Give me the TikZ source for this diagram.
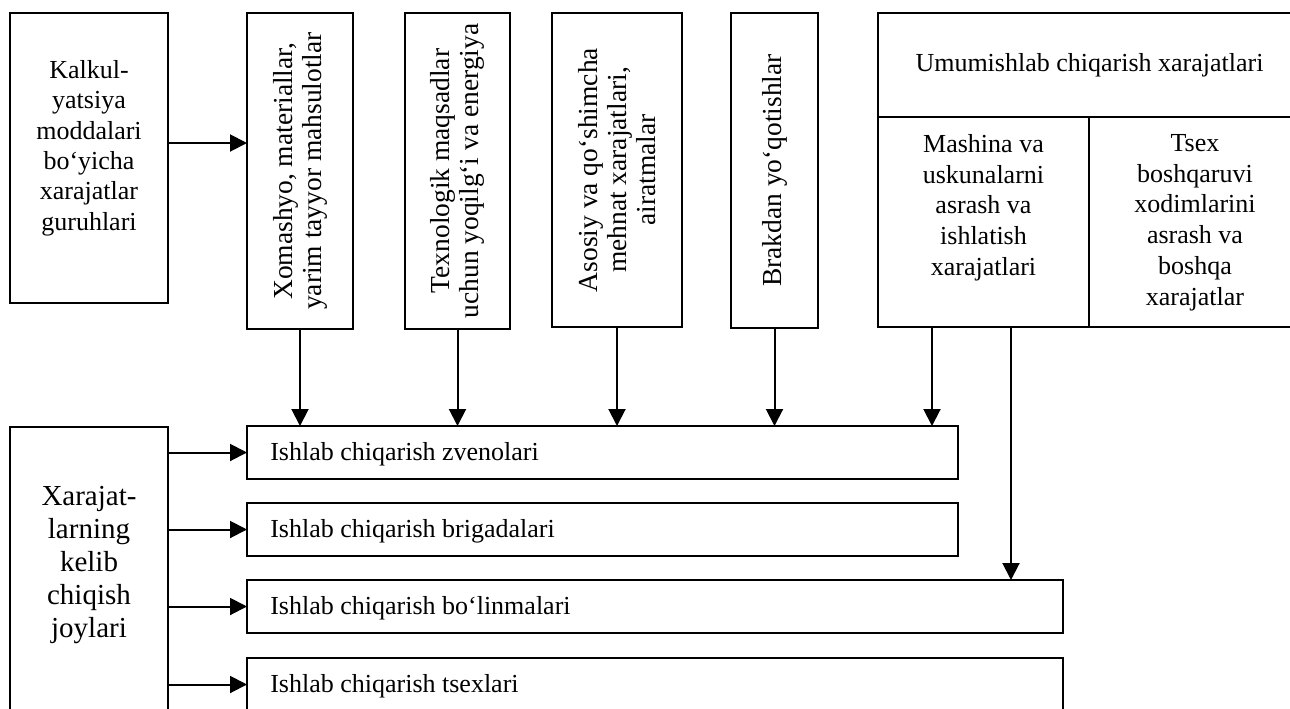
\documentclass[tikz,border=0pt]{standalone}
\usepackage{fontspec}
\setmainfont{Liberation Serif}
\usetikzlibrary{arrows.meta}
\begin{document}
\begin{tikzpicture}[x=0.75pt,y=-0.75pt,
  cell/.style={draw, line width=1.5pt, inner sep=0pt, outer sep=0pt, anchor=north west},
  txt/.style={inner sep=0pt, align=center, font=\fontsize{19.5pt}{21.75pt}\selectfont},
  vtxt/.style={txt, rotate=90, font=\fontsize{20.6pt}{21.75pt}\selectfont},
  arr/.style={line width=1.5pt, -{Triangle[length=12.75pt,width=12.75pt]}}]
\useasboundingbox (0,0) rectangle (1290,708);
\fill[white] (0,0) rectangle (1290,708);
\clip (0,0) rectangle (1290,708);

% upper row: calculation items
\node[cell, minimum width=118.5pt, minimum height=217.5pt] (kal) at (10,13) {};
\node[cell, minimum width=79.5pt,  minimum height=237pt]   (xom) at (247,13) {};
\node[cell, minimum width=78.75pt, minimum height=237pt]   (tex) at (405,13) {};
\node[cell, minimum width=97.5pt,  minimum height=235.5pt] (aso) at (552,13) {};
\node[cell, minimum width=65.25pt, minimum height=236.25pt] (bra) at (731,13) {};
\node[cell, minimum width=317.25pt, minimum height=78pt]   (head) at (878,13) {};
\node[cell, minimum width=158.25pt, minimum height=157.5pt] (mash) at (878,117) {};
\node[cell, minimum width=159pt,   minimum height=157.5pt] (tsc) at (1089,117) {};

% lower part: places where costs arise
\node[cell, minimum width=118.5pt, minimum height=225pt]   (xar) at (10,427) {};
\node[cell, minimum width=533.25pt, minimum height=39.75pt] (zve) at (247,426) {};
\node[cell, minimum width=533.25pt, minimum height=39.75pt] (bri) at (247,503) {};
\node[cell, minimum width=612pt,   minimum height=39.75pt] (bol) at (247,580) {};
\node[cell, minimum width=612pt,   minimum height=39.75pt] (tse) at (247,658) {};

% texts
\node[txt, font=\fontsize{19.5pt}{22.8pt}\selectfont] (kalT) at (89,148)
  {Kalkul-\\yatsiya\\moddalari\\bo‘yicha\\xarajatlar\\guruhlari};
\node[vtxt] (xomT) at (xom.center) {Xomashyo, materiallar,\\yarim tayyor mahsulotlar};
\node[vtxt] (texT) at (tex.center) {Texnologik maqsadlar\\uchun yoqilg‘i va energiya};
\node[vtxt] (asoT) at (aso.center) {Asosiy va qo‘shimcha\\mehnat xarajatlari,\\airatmalar};
\node[vtxt] (braT) at (bra.center) {Brakdan yo‘qotishlar};
\node[txt] (headT) at (head.center) {Umumishlab chiqarish xarajatlari};
\node[txt, anchor=north, font=\fontsize{19.5pt}{23.1pt}\selectfont] (mashT) at (983.5,134)
  {Mashina va\\uskunalarni\\asrash va\\ishlatish\\xarajatlari};
\node[txt, anchor=north, font=\fontsize{19.5pt}{23.1pt}\selectfont] (tscT) at (1195,134)
  {Tsex\\boshqaruvi\\xodimlarini\\asrash va\\boshqa\\xarajatlar};
\node[txt, font=\fontsize{21.75pt}{24.75pt}\selectfont] (xarT) at (89,565)
  {Xarajat-\\larning\\kelib\\chiqish\\joylari};
\node[txt, anchor=west] (zveT) at ([xshift=17.25pt,yshift=-1.5pt]zve.west) {Ishlab chiqarish zvenolari};
\node[txt, anchor=west] (briT) at ([xshift=17.25pt,yshift=-1.5pt]bri.west) {Ishlab chiqarish brigadalari};
\node[txt, anchor=west] (bolT) at ([xshift=17.25pt,yshift=-1.5pt]bol.west) {Ishlab chiqarish bo‘linmalari};
\node[txt, anchor=west] (tseT) at ([xshift=17.25pt,yshift=-1.5pt]tse.west) {Ishlab chiqarish tsexlari};

% connectors
\coordinate (k) at (0,143);
\coordinate (m1) at (932,0);
\coordinate (m2) at (1011,0);
\draw[arr] (kal.east |- k) -- (xom.west |- k);
\draw[arr] (xom.south) -- (xom.south |- zve.north);
\draw[arr] (tex.south) -- (tex.south |- zve.north);
\draw[arr] (aso.south) -- (aso.south |- zve.north);
\draw[arr] (bra.south) -- (bra.south |- zve.north);
\draw[arr] (m1 |- mash.south) -- (m1 |- zve.north);
\draw[arr] (m2 |- mash.south) -- (m2 |- bol.north);
\draw[arr] (xar.east |- zve.west) -- (zve.west);
\draw[arr] (xar.east |- bri.west) -- (bri.west);
\draw[arr] (xar.east |- bol.west) -- (bol.west);
\draw[arr] (xar.east |- tse.west) -- (tse.west);
\end{tikzpicture}
\end{document}
